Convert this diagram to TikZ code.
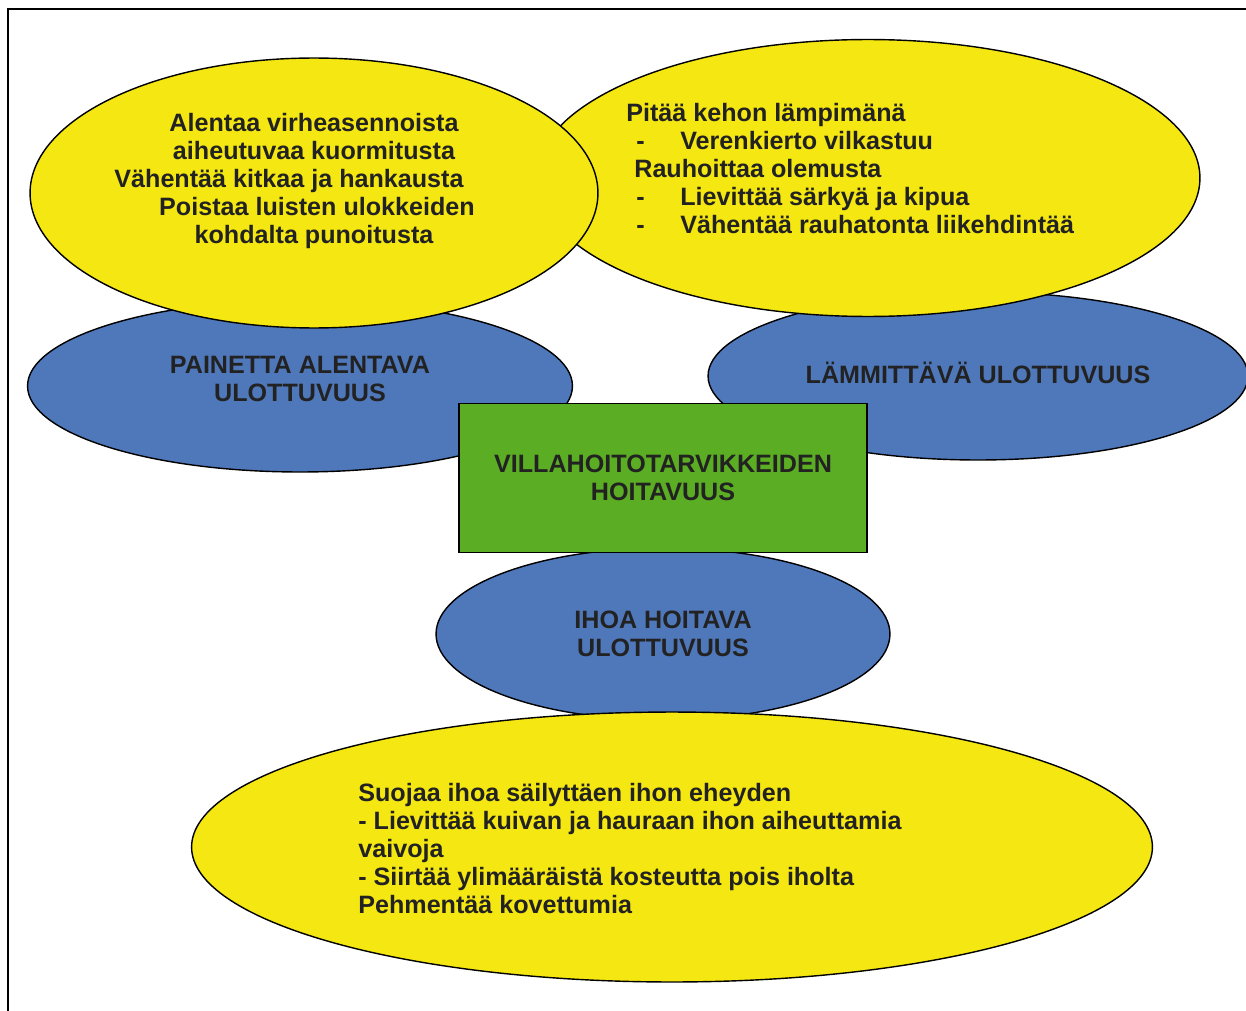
\documentclass[tikz,border=0pt]{standalone}
\usepackage{fontspec}
\setmainfont{Liberation Sans}
\usetikzlibrary{shapes.geometric}
\definecolor{ovalyellow}{RGB}{245,231,18}
\definecolor{ovalblue}{RGB}{79,120,187}
\definecolor{boxgreen}{RGB}{91,173,36}
\definecolor{inkgray}{RGB}{34,34,34}
\begin{document}
\begin{tikzpicture}[
  x=0.02cm, y=-0.02cm,
  oval/.style={ellipse, draw=black, line width=0.8pt, inner sep=0pt, text=inkgray,
    font=\fontsize{14.3}{15.9}\selectfont\bfseries, align=center},
  yoval/.style={oval, fill=ovalyellow},
  boval/.style={oval, fill=ovalblue},
  core/.style={rectangle, draw=black, line width=0.8pt, fill=boxgreen, text=inkgray,
    font=\fontsize{14.3}{15.9}\selectfont\bfseries, align=center,
    minimum width=8.16cm, minimum height=2.98cm},
  txt/.style={inner sep=0pt, text=inkgray, font=\fontsize{14.3}{15.9}\selectfont\bfseries}
]
\useasboundingbox (0,0) rectangle (1246,1010);
\draw[line width=1.1pt] (8,1015) -- (8,9) -- (1250,9);

% dimensions
\node[boval, minimum width=10.8cm, minimum height=3.36cm, text depth=0.14cm] (warm) at (978,376) {L\"AMMITT\"AV\"A ULOTTUVUUS};
\node[boval, minimum width=10.9cm, minimum height=3.44cm, text depth=0.27cm] (press) at (300,386) {PAINETTA ALENTAVA\\ULOTTUVUUS};
\node[boval, minimum width=9.08cm, minimum height=3.44cm] (skin) at (663,634) {IHOA HOITAVA\\ULOTTUVUUS};

% effects
\node[yoval, minimum width=13.28cm, minimum height=5.54cm] (warmfx) at (868,178) {};
\node[yoval, minimum width=11.36cm, minimum height=5.4cm] (pressfx) at (314,193) {};
\node[yoval, minimum width=19.22cm, minimum height=5.4cm] (skinfx) at (672,847) {};

\node[core] (care) at (663,478) {VILLAHOITOTARVIKKEIDEN\\HOITAVUUS};

% texts of the effects
\node[txt, align=center] (presstxt) at (314,181) {Alentaa virheasennoista\\aiheutuvaa kuormitusta\\V\"ahent\"a\"a kitkaa ja hankausta\rule{1cm}{0pt}\\\rule{0.12cm}{0pt}Poistaa luisten ulokkeiden\\kohdalta punoitusta};
\node[txt, align=left, anchor=north west] (warmtxt) at (626,103) {Pit\"a\"a kehon l\"ampim\"an\"a\\
  \hspace*{0.2cm}\makebox[0.88cm][l]{-}Verenkierto vilkastuu\\
  \hspace*{0.16cm}Rauhoittaa olemusta\\
  \hspace*{0.2cm}\makebox[0.88cm][l]{-}Lievitt\"a\"a s\"arky\"a ja kipua\\
  \hspace*{0.2cm}\makebox[0.88cm][l]{-}V\"ahent\"a\"a rauhatonta liikehdint\"a\"a};
\node[txt, align=left, anchor=north west] (skintxt) at (358,783) {Suojaa ihoa s\"ailytt\"aen ihon eheyden\\
  - Lievitt\"a\"a kuivan ja hauraan ihon aiheuttamia\\
  vaivoja\\
  - Siirt\"a\"a ylim\"a\"ar\"aist\"a kosteutta pois iholta\\
  Pehment\"a\"a kovettumia};
\end{tikzpicture}
\end{document}
